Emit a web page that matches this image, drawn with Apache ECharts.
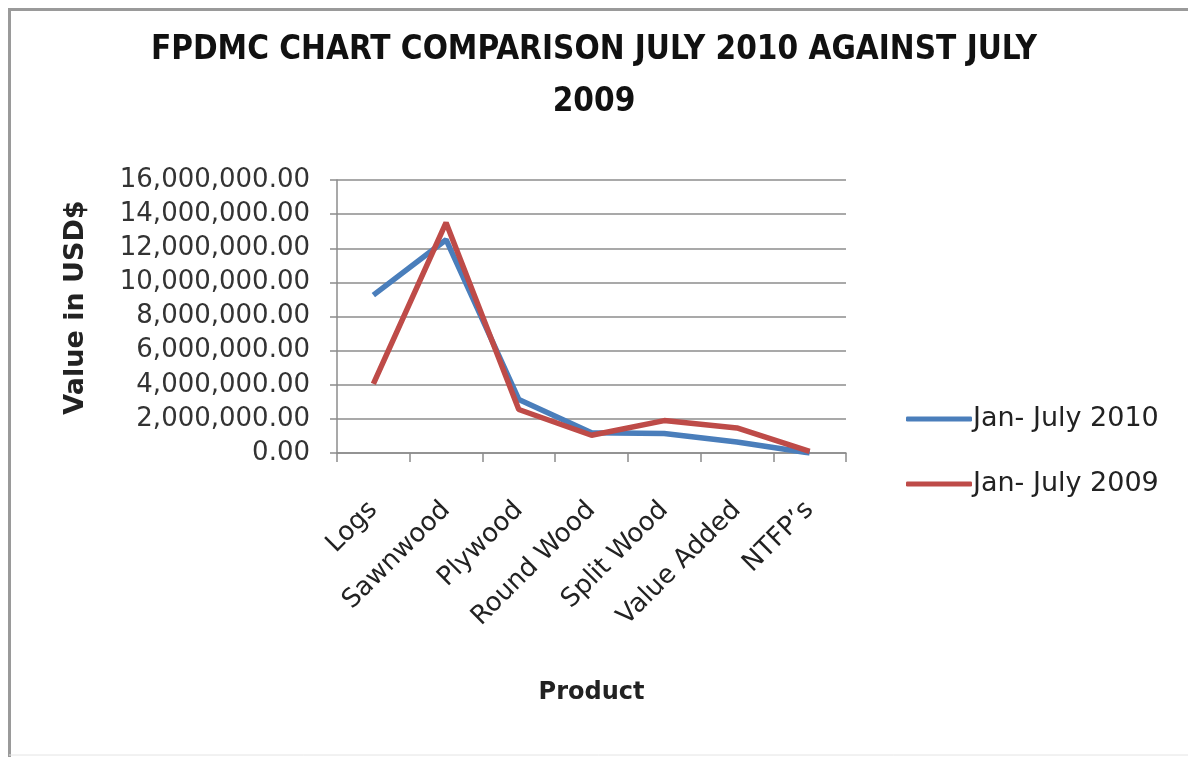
<!DOCTYPE html>
<html>
<head>
<meta charset="utf-8">
<script src="https://cdn.jsdelivr.net/npm/echarts@6/dist/echarts.min.js"></script>
<style>
  html, body { margin: 0; padding: 0; background: #fff; }
  #main { width: 1188px; height: 757px; }
</style>
</head>
<body>
<div id="main"></div>
<script>
var products = ['Logs', 'Sawnwood', 'Plywood', 'Round Wood', 'Split Wood', 'Value Added', 'NTFP\u2019s'];
var jul2010 = [9250000, 12500000, 3140000, 1180000, 1140000, 650000, 0];
var jul2009 = [4050000, 13500000, 2550000, 1040000, 1900000, 1470000, 100000];
var seriesNames = ['Jan- July 2010', 'Jan- July 2009'];

var chart = echarts.init(document.getElementById('main'));

var labelFont = 'DejaVu Sans';

var option = {
    backgroundColor: '#fff',
    title: {
        text: 'FPDMC CHART COMPARISON JULY 2010 AGAINST JULY\n2009',
        left: 'center',
        top: 19,
        textStyle: {
            fontFamily: '"Liberation Sans Narrow", "DejaVu Sans Condensed", sans-serif',
            fontWeight: 'bold',
            fontSize: 33,
            lineHeight: 52,
            color: '#111'
        }
    },
    color: ['#4a7ebb', '#be4b48'],
    legend: {
        orient: 'vertical',
        left: 901,
        top: 399,
        icon: 'roundRect',
        itemWidth: 66,
        itemHeight: 5,
        itemGap: 35,
        data: seriesNames,
        textStyle: {
            fontFamily: labelFont,
            fontSize: 27,
            color: '#222',
            lineHeight: 30,
            padding: [0, 0, 0, -4]
        }
    },
    grid: {
        left: 337,
        right: 342,
        top: 180,
        bottom: 304
    },
    xAxis: {
        type: 'category',
        data: products,
        boundaryGap: true,
        name: 'Product',
        nameLocation: 'middle',
        nameGap: 228,
        nameTextStyle: {
            fontFamily: labelFont,
            fontWeight: 'bold',
            fontSize: 24,
            color: '#222'
        },
        axisLine: { lineStyle: { color: '#8c8c8c', width: 1.5 } },
        axisTick: { show: true, length: 9, lineStyle: { color: '#8c8c8c', width: 1.5 } },
        axisLabel: {
            rotate: 45,
            margin: 53,
            interval: 0,
            fontFamily: labelFont,
            fontSize: 26,
            color: '#222'
        }
    },
    yAxis: {
        type: 'value',
        min: 0,
        max: 16000000,
        interval: 2000000,
        name: 'Value in USD$',
        nameLocation: 'middle',
        nameRotate: 90,
        nameGap: 248,
        nameTextStyle: {
            fontFamily: labelFont,
            fontWeight: 'bold',
            fontSize: 27,
            color: '#222',
            padding: [0, 0, 0, 18]
        },
        axisLine: { show: true, lineStyle: { color: '#8c8c8c', width: 1.5 } },
        axisTick: { show: true, length: 7, lineStyle: { color: '#8c8c8c', width: 1.5 } },
        splitLine: { show: true, lineStyle: { color: '#8c8c8c', width: 1.5 } },
        axisLabel: {
            margin: 27,
            fontFamily: labelFont,
            fontSize: 26,
            color: '#333',
            formatter: function (v) {
                return v.toLocaleString('en-US', { minimumFractionDigits: 2, maximumFractionDigits: 2 });
            }
        }
    },
    series: [
        {
            name: seriesNames[0],
            type: 'line',
            data: jul2010,
            symbol: 'none',
            lineStyle: { width: 5.5 }
        },
        {
            name: seriesNames[1],
            type: 'line',
            data: jul2009,
            symbol: 'none',
            lineStyle: { width: 5.5 }
        }
    ],
    graphic: [
        {
            type: 'polyline',
            shape: { points: [[9.5, 757], [9.5, 9.5], [1188, 9.5]] },
            style: { stroke: '#9a9a9a', lineWidth: 3, fill: null }
        },
        {
            type: 'line',
            shape: { x1: 9, y1: 755, x2: 1188, y2: 755 },
            style: { stroke: '#e4e4e4', lineWidth: 1 }
        }
    ]
};

chart.setOption(option);
</script>
</body>
</html>
